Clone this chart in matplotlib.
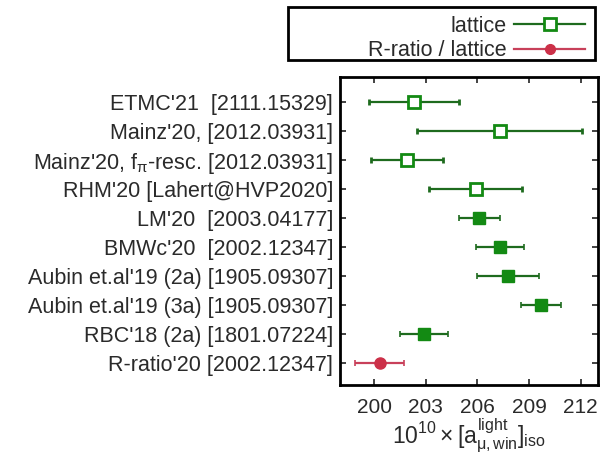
import matplotlib
matplotlib.use("Agg")
import matplotlib.pyplot as plt
from matplotlib.patches import Rectangle
from matplotlib.lines import Line2D

plt.rcParams['font.family'] = ['Liberation Sans', 'DejaVu Sans']
plt.rcParams['mathtext.fontset'] = 'custom'
plt.rcParams['mathtext.rm'] = 'Liberation Sans'
plt.rcParams['mathtext.it'] = 'Liberation Sans'

# Results, top to bottom
labels = [
    "ETMC'21  [2111.15329]",
    "Mainz'20, [2012.03931]",
    "Mainz'20, f$_\\pi$-resc. [2012.03931]",
    "RHM'20 [Lahert@HVP2020]",
    "LM'20  [2003.04177]",
    "BMWc'20  [2002.12347]",
    "Aubin et.al'19 (2a) [1905.09307]",
    "Aubin et.al'19 (3a) [1905.09307]",
    "RBC'18 (2a) [1801.07224]",
    "R-ratio'20 [2002.12347]",
]
values = [202.3, 207.3, 201.9, 205.9, 206.1, 207.3, 207.8, 209.7, 202.9, 200.3]
errors = [2.6, 4.8, 2.1, 2.7, 1.2, 1.4, 1.8, 1.15, 1.4, 1.4]
# marker kind per entry: 'open' lattice, 'filled' lattice, 'ratio' R-ratio
kinds = ['open', 'open', 'open', 'open', 'filled', 'filled', 'filled', 'filled', 'filled', 'ratio']
xticks = [200, 203, 206, 209, 212]

green_line = '#1e6b1e'
green_mark = '#138a13'
red_line = '#c8405a'
red_mark = '#cc3048'
text_col = '#2a2a2a'
fs = 15

fig = plt.figure(figsize=(6.05, 4.59), dpi=100)
ax = fig.add_axes([0.562, 0.161, 0.426, 0.671])

n = len(labels)
ypos = [n - 1 - i for i in range(n)]

for y, v, e, k in zip(ypos, values, errors, kinds):
    if k == 'ratio':
        ax.errorbar(v, y, xerr=e, fmt='o', color=red_line, ecolor=red_line,
                    mfc=red_mark, mec=red_mark, ms=8, elinewidth=1.6,
                    capsize=2.5, capthick=1.2, zorder=3)
    elif k == 'open':
        ax.errorbar(v, y, xerr=e, fmt='s', color=green_line, ecolor=green_line,
                    mfc='white', mec=green_mark, mew=2, ms=9, elinewidth=1.6,
                    capsize=2.5, capthick=1.2, zorder=3)
    else:
        ax.errorbar(v, y, xerr=e, fmt='s', color=green_line, ecolor=green_line,
                    mfc=green_mark, mec=green_mark, ms=9, elinewidth=1.6,
                    capsize=2.5, capthick=1.2, zorder=3)

ax.set_xlim(198, 213)
ax.set_ylim(-0.75, n - 1 + 0.85)
ax.set_xticks(xticks)
ax.set_xticklabels([str(t) for t in xticks], fontsize=fs, color=text_col)
ax.set_yticks(ypos)
ax.set_yticklabels(labels, fontsize=15.5, color=text_col)
ax.tick_params(axis='both', direction='in', length=4, width=1.2,
               top=True, right=True, color='#222222')
ax.tick_params(axis='x', pad=9)
ax.tick_params(axis='y', pad=5)
for s in ax.spines.values():
    s.set_linewidth(2)
    s.set_color('black')

ax.set_xlabel(r"$10^{10}\times[a_{\mu,\mathrm{win}}^{\mathrm{light}}]_{\mathrm{iso}}$",
              fontsize=16.5, color=text_col, labelpad=0)

# legend with a framed box across the top right
handles = [
    Line2D([], [], color=green_line, marker='s', mfc='white', mec=green_mark,
           mew=2, ms=8, lw=1.6),
    Line2D([], [], color=red_line, marker='o', mfc=red_mark, mec=red_mark,
           ms=7, lw=1.6),
]
fig.legend(handles, ['lattice', 'R-ratio / lattice'], loc='upper right',
           bbox_to_anchor=(0.996, 1.003), frameon=False, markerfirst=False,
           fontsize=15.5, handlelength=3.3, handletextpad=0.35,
           labelspacing=0.15, borderpad=0.3, labelcolor=text_col)
fig.patches.append(Rectangle((0.476, 0.869), 0.507, 0.116, transform=fig.transFigure,
                             fill=False, edgecolor='black', lw=2))

fig.savefig('out.png', dpi=100)
